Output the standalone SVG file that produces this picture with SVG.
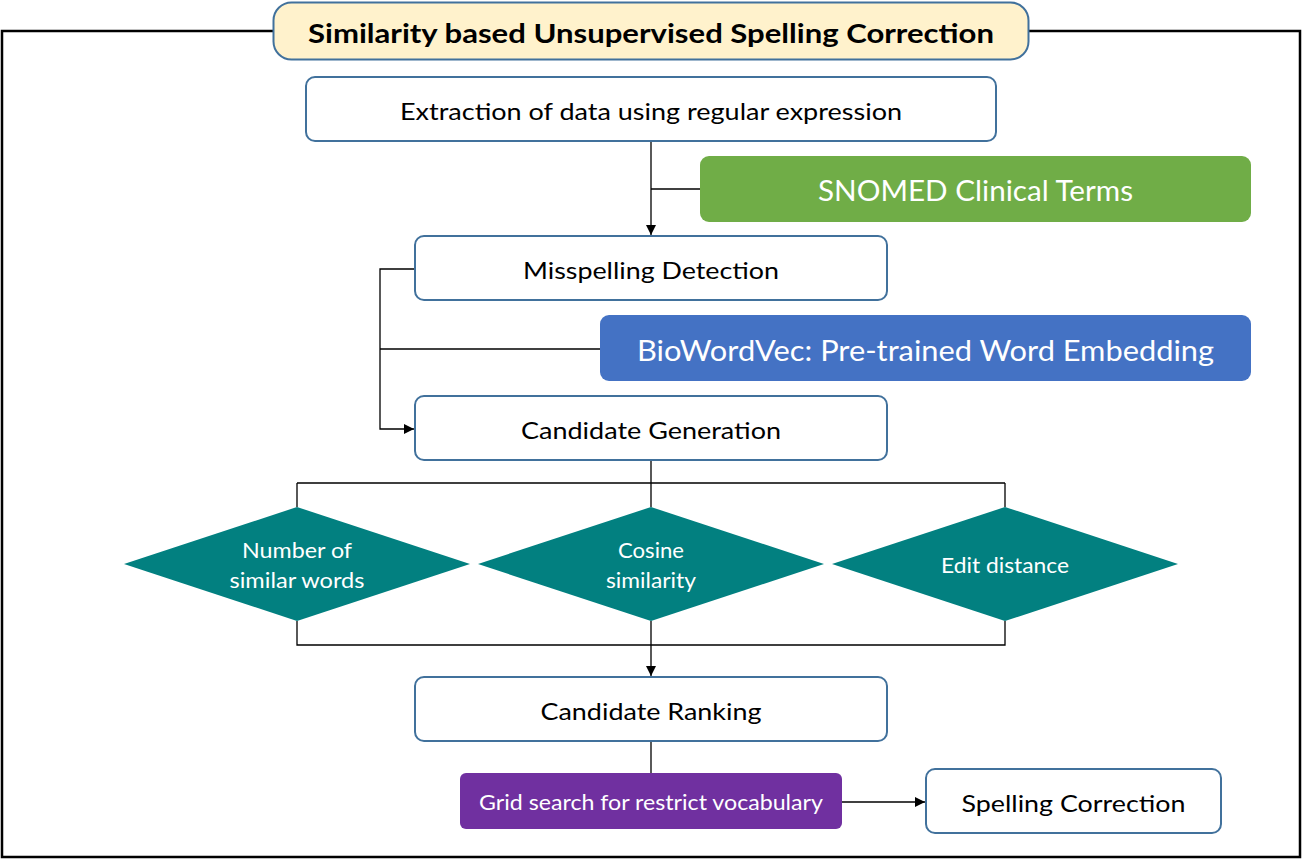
<svg xmlns="http://www.w3.org/2000/svg" width="1302" height="859" viewBox="0 0 1302 859">
<defs>
<style>
.box{fill:#fff;stroke:#41719C;stroke-width:2}
.t{font-family:Lato,"Open Sans","Liberation Sans",sans-serif;text-anchor:middle;dominant-baseline:central}
.dark{fill:#000}
.white{fill:#fff}
.con{fill:none;stroke:#000;stroke-width:1.3}
.dia{fill:#028080}
</style>
<marker id="arr" viewBox="0 0 10 10" refX="10" refY="5" markerWidth="10" markerHeight="10" markerUnits="userSpaceOnUse" orient="auto">
<path d="M0,0 L10,5 L0,10 z" fill="#000"/>
</marker>
</defs>
<rect width="1302" height="859" fill="#fff"/>
<g id="frame">
<path d="M273,31 H2 V857 H1300 V31 H1029" fill="none" stroke="#000" stroke-width="2.5"/>
</g>
<g id="connectors">
<path class="con" d="M651,141 V235" marker-end="url(#arr)"/>
<path class="con" d="M651,189 H700"/>
<path class="con" d="M415,269 H380 V429 H414" marker-end="url(#arr)"/>
<path class="con" d="M380,349 H600"/>
<path class="con" d="M651,460 V483 M297,483 H1005 M297,483 V507 M651,483 V507 M1005,483 V507"/>
<path class="con" d="M297,621 V645 H1005 V621 M651,621 V676" marker-end="url(#arr)"/>
<path class="con" d="M651,741 V773"/>
<path class="con" d="M842,802 H925" marker-end="url(#arr)"/>
</g>
<g id="title">
<rect x="273.5" y="2.5" width="755" height="57" rx="18" fill="#FFF2CC" stroke="#41719C" stroke-width="2"/>
<text class="t dark" x="651" y="32" font-size="27" font-weight="bold" textLength="686" lengthAdjust="spacingAndGlyphs">Similarity based Unsupervised Spelling Correction</text>
</g>
<g id="extraction">
<rect class="box" x="306" y="77" width="690" height="64" rx="9"/>
<text class="t dark" x="651" y="110" font-size="24" textLength="502" lengthAdjust="spacingAndGlyphs">Extraction of data using regular expression</text>
</g>
<g id="snomed">
<rect x="700" y="156" width="551" height="66" rx="9" fill="#70AD47"/>
<text class="t white" x="975.5" y="190" font-size="28" textLength="315" lengthAdjust="spacingAndGlyphs">SNOMED Clinical Terms</text>
</g>
<g id="misspelling">
<rect class="box" x="415" y="236" width="472" height="64" rx="9"/>
<text class="t dark" x="651" y="269" font-size="24" textLength="256" lengthAdjust="spacingAndGlyphs">Misspelling Detection</text>
</g>
<g id="biowordvec">
<rect x="600" y="315" width="651" height="66" rx="9" fill="#4472C4"/>
<text class="t white" x="925.5" y="349" font-size="29" textLength="577" lengthAdjust="spacingAndGlyphs">BioWordVec: Pre-trained Word Embedding</text>
</g>
<g id="candgen">
<rect class="box" x="415" y="396" width="472" height="64" rx="9"/>
<text class="t dark" x="651" y="429" font-size="24" textLength="260" lengthAdjust="spacingAndGlyphs">Candidate Generation</text>
</g>
<g id="numsim">
<polygon class="dia" points="297,507 470,564 297,621 124,564"/>
<text class="t white" x="297" y="549" font-size="21" textLength="110" lengthAdjust="spacingAndGlyphs">Number of</text>
<text class="t white" x="297" y="579" font-size="21" textLength="135" lengthAdjust="spacingAndGlyphs">similar words</text>
</g>
<g id="cosine">
<polygon class="dia" points="651,507 824,564 651,621 478,564"/>
<text class="t white" x="651" y="549" font-size="21" textLength="66" lengthAdjust="spacingAndGlyphs">Cosine</text>
<text class="t white" x="651" y="579" font-size="21" textLength="90" lengthAdjust="spacingAndGlyphs">similarity</text>
</g>
<g id="edit">
<polygon class="dia" points="1005,507 1178,564 1005,621 832,564"/>
<text class="t white" x="1005" y="564" font-size="21" textLength="128" lengthAdjust="spacingAndGlyphs">Edit distance</text>
</g>
<g id="ranking">
<rect class="box" x="415" y="677" width="472" height="64" rx="9"/>
<text class="t dark" x="651" y="710" font-size="24" textLength="221" lengthAdjust="spacingAndGlyphs">Candidate Ranking</text>
</g>
<g id="grid">
<rect x="460" y="773" width="382" height="56" rx="6" fill="#7030A0"/>
<text class="t white" x="651" y="801" font-size="21" textLength="344" lengthAdjust="spacingAndGlyphs">Grid search for restrict vocabulary</text>
</g>
<g id="spelling">
<rect class="box" x="926" y="769" width="295" height="64" rx="9"/>
<text class="t dark" x="1073.5" y="802" font-size="24" textLength="224" lengthAdjust="spacingAndGlyphs">Spelling Correction</text>
</g>
</svg>
